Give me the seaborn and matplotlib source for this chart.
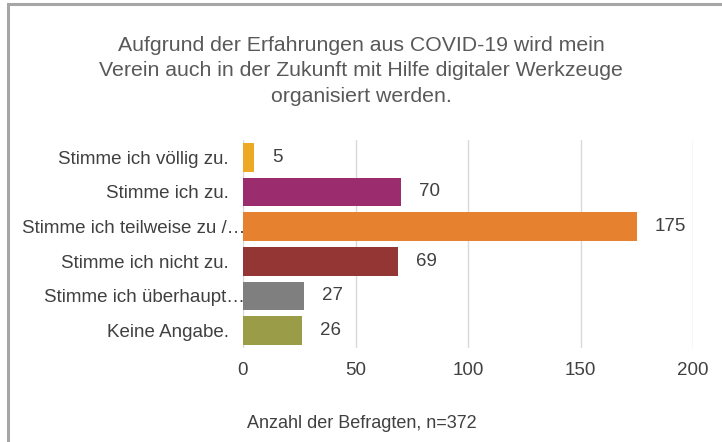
import matplotlib
matplotlib.use("Agg")
import matplotlib.pyplot as plt
import matplotlib.transforms as mtransforms
import seaborn as sns
import pandas as pd
from matplotlib.patches import Rectangle

categories = [
    "Stimme ich völlig zu.",
    "Stimme ich zu.",
    "Stimme ich teilweise zu /…",
    "Stimme ich nicht zu.",
    "Stimme ich überhaupt…",
    "Keine Angabe.",
]
counts = [5, 70, 175, 69, 27, 26]
colors = ["#EDA923", "#9B2D6E", "#E5812F", "#943634", "#7F7F7F", "#9A9C48"]
x_ticks = [0, 50, 100, 150, 200]
title = ("Aufgrund der Erfahrungen aus COVID-19 wird mein\n"
         "Verein auch in der Zukunft mit Hilfe digitaler Werkzeuge\n"
         "organisiert werden.")
x_label = "Anzahl der Befragten, n=372"

sns.set_theme(style="white")
plt.rcParams["font.family"] = ["Liberation Sans", "DejaVu Sans"]
text_color = "#404040"
title_color = "#595959"

df = pd.DataFrame({"Antwort": categories, "Anzahl": counts})

fig = plt.figure(figsize=(7.22, 4.42), dpi=100)
ax = fig.add_axes([243 / 722, 1 - 348 / 442, 450 / 722, 208 / 442])

sns.barplot(data=df, y="Antwort", x="Anzahl", hue="Antwort", palette=colors,
            legend=False, orient="h", width=0.83, ax=ax, saturation=1,
            linewidth=0)

ax.set_xlim(0, 200)
ax.set_ylim(len(categories) - 0.5, -0.5)
ax.set_xticks(x_ticks)
ax.xaxis.grid(True, color="#D9D9D9", linewidth=1)
ax.set_axisbelow(True)
for s in ax.spines.values():
    s.set_visible(False)
ax.tick_params(axis="both", length=0, labelsize=13.5, colors=text_color)
ax.tick_params(axis="y", pad=10)
ax.tick_params(axis="x", pad=10)
ax.set_ylabel("")
ax.set_xlabel("")

# truncated category names run right up to the axis
shift = mtransforms.ScaledTranslation(16 / 100, 0, fig.dpi_scale_trans)
for lbl in ax.get_yticklabels():
    if lbl.get_text().endswith("…"):
        lbl.set_transform(lbl.get_transform() + shift)

for container in ax.containers:
    ax.bar_label(container, padding=13, fontsize=13.5, color=text_color)

fig.text(0.5, 1 - 71 / 442, title, ha="center", va="center", fontsize=15.3,
         color=title_color, linespacing=1.43)
fig.text(247 / 722, 1 - 424 / 442, x_label, ha="left", va="center",
         fontsize=13, color=text_color)

# outer chart frame (top and left edges visible)
fig.patches.append(Rectangle((8 / 722, -0.1), 1.2, 1 - 4.5 / 442 + 0.1,
                             transform=fig.transFigure, fill=False,
                             edgecolor="#A6A6A6", linewidth=2.2))

fig.savefig("out.png", dpi=100)
